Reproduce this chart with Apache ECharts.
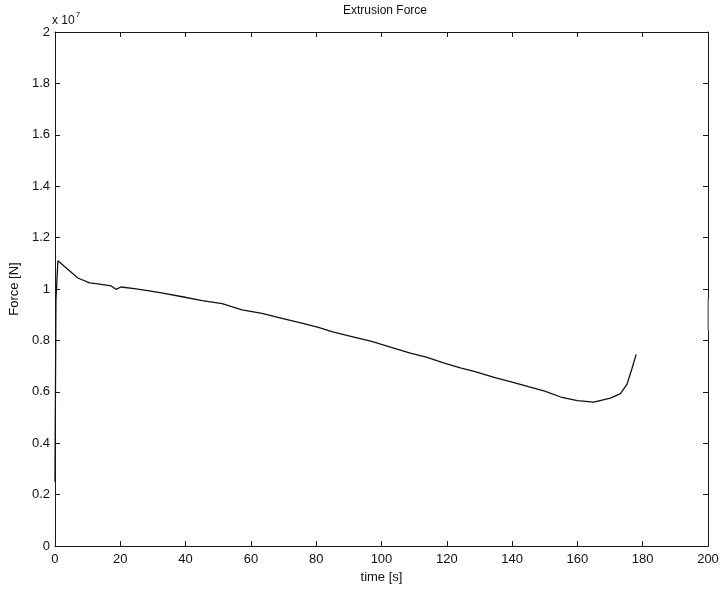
<!DOCTYPE html>
<html>
<head>
<meta charset="utf-8">
<script src="https://cdn.jsdelivr.net/npm/echarts@6/dist/echarts.min.js"></script>
<style>
  html, body { margin: 0; padding: 0; background: #fff; }
  #chart { width: 724px; height: 589px; }
</style>
</head>
<body>
<div id="chart"></div>
<script>
// Extrusion force over time, force in units of 1e7 N
const timeS = [0, 0.3, 0.9, 7.0, 10.6, 13.1, 17.2, 18.7, 20.2, 24.3, 28.4, 32.6,
  39.0, 45.1, 51.2, 57.3, 63.4, 69.5, 75.6, 80.7, 84.8, 90.9, 97.0, 103.0, 109.1,
  113.7, 119.0, 124.4, 128.4, 134.5, 140.0, 145.0, 150.0, 154.9, 160.0, 165.0,
  170.1, 173.2, 175.2, 176.7, 178.0];
const forceE7 = [0.25, 0.96, 1.11, 1.043, 1.024, 1.020, 1.012, 0.999, 1.008, 1.002, 0.994, 0.985,
  0.970, 0.955, 0.943, 0.919, 0.905, 0.886, 0.867, 0.851, 0.834, 0.815, 0.796, 0.773, 0.750,
  0.735, 0.713, 0.692, 0.680, 0.656, 0.638, 0.620, 0.603, 0.580, 0.566, 0.560,
  0.576, 0.593, 0.630, 0.690, 0.746];
// short stroke at the right border
const edgeTime = [200, 200];
const edgeForceE7 = [0.96, 0.84];

const xTicks = { min: 0, max: 200, interval: 20 };
const yTicks = { min: 0, max: 2, interval: 0.2 };

const FONT = 'Liberation Sans, Arial, sans-serif';
const chart = echarts.init(document.getElementById('chart'));

const axisCommon = {
  axisLine: { show: true, onZero: false, lineStyle: { color: '#1a1a1a', width: 1 } },
  axisTick: { show: true, inside: true, length: 5, lineStyle: { color: '#1a1a1a', width: 1 } },
  splitLine: { show: false }
};

chart.setOption({
  animation: false,
  backgroundColor: '#fff',
  title: {
    text: 'Extrusion Force',
    left: 380, top: 0, textAlign: 'center',
    textStyle: { fontFamily: FONT, fontSize: 12, fontWeight: 'normal', color: '#111' }
  },
  grid: { left: 52, right: 16, top: 32, bottom: 40 },
  xAxis: [
    Object.assign({
      type: 'value', position: 'bottom', min: xTicks.min, max: xTicks.max, interval: xTicks.interval,
      name: 'time [s]', nameLocation: 'middle', nameGap: 23,
      nameTextStyle: { fontFamily: FONT, fontSize: 13, color: '#111' },
      axisLabel: { fontFamily: FONT, fontSize: 13, color: '#111', margin: 7 }
    }, axisCommon),
    Object.assign({
      type: 'value', position: 'top', min: xTicks.min, max: xTicks.max, interval: xTicks.interval,
      axisLabel: { show: false }
    }, axisCommon)
  ],
  yAxis: [
    Object.assign({
      type: 'value', position: 'left', min: yTicks.min, max: yTicks.max, interval: yTicks.interval,
      name: 'Force [N]', nameLocation: 'middle', nameGap: 30, nameRotate: 90,
      nameTextStyle: { fontFamily: FONT, fontSize: 13, color: '#111' },
      axisLabel: {
        fontFamily: FONT, fontSize: 13, color: '#111', margin: 5,
        formatter: v => String(+v.toFixed(1))
      }
    }, axisCommon),
    Object.assign({
      type: 'value', position: 'right', min: yTicks.min, max: yTicks.max, interval: yTicks.interval,
      axisLabel: { show: false }
    }, axisCommon)
  ],
  graphic: [{
    type: 'text', left: 52, top: 11,
    style: {
      text: '{b|x 10}{s|7}',
      rich: {
        b: { fontFamily: FONT, fontSize: 12, fill: '#111', verticalAlign: 'bottom' },
        s: { fontFamily: FONT, fontSize: 8, fill: '#111', padding: [0, 0, 8, 1] }
      }
    }
  }],
  series: [
    {
      type: 'line', xAxisIndex: 0, yAxisIndex: 0,
      data: timeS.map((t, i) => [t, forceE7[i]]),
      showSymbol: false, smooth: false,
      lineStyle: { color: '#111', width: 1.3 }
    },
    {
      type: 'line', xAxisIndex: 0, yAxisIndex: 0,
      data: edgeTime.map((t, i) => [t, edgeForceE7[i]]),
      showSymbol: false,
      lineStyle: { color: '#999', width: 1.5 }
    }
  ]
});
</script>
</body>
</html>
